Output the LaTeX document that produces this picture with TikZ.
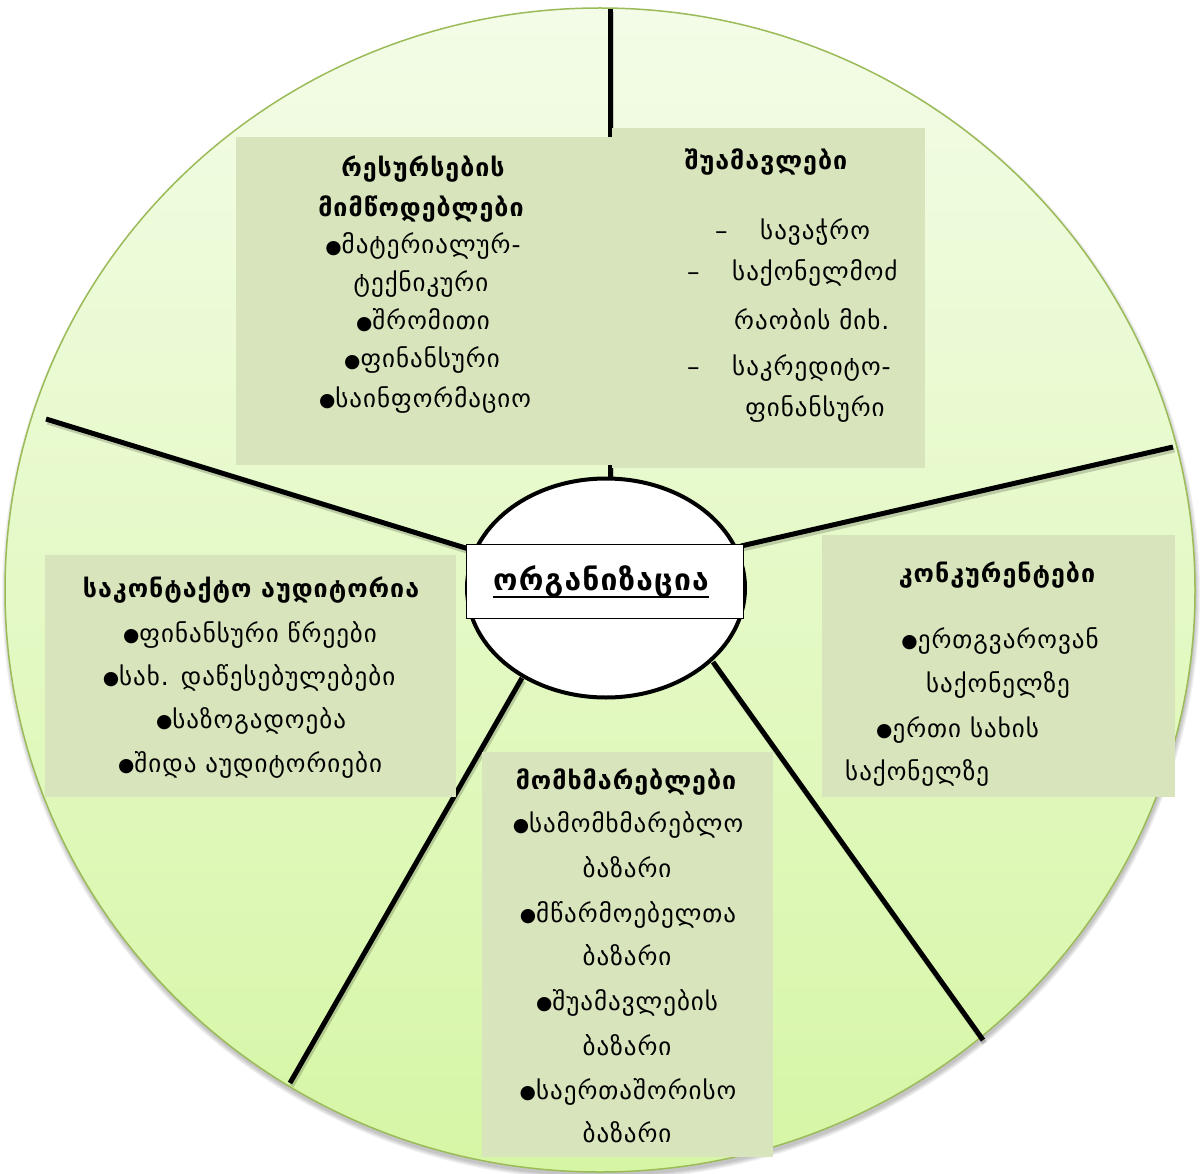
\documentclass[tikz,border=0pt]{standalone}
\usepackage{fontspec}
\usepackage{graphicx}
\setmainfont{DejaVu Sans}[LetterSpace=4]
\usetikzlibrary{shapes.geometric}

\definecolor{panelfill}{RGB}{216,228,188}
\definecolor{rimgreen}{RGB}{155,187,89}
\definecolor{wheeltop}{RGB}{243,252,231}
\definecolor{wheelmid}{RGB}{230,250,208}
\definecolor{wheelbot}{RGB}{214,246,165}

% small filled bullet in front of list items
\newcommand\bul{\raisebox{0.5pt}{\scalebox{0.75}{●}}}
% underline drawn at a fixed distance below the baseline
\newcommand\orgrule[1]{\setbox0\hbox{#1}\rlap{\rule[-8pt]{\wd0}{2pt}}\box0}

\tikzset{
  panel/.style={rectangle, fill=panelfill, draw=none, anchor=north west, inner sep=0pt},
  spoke/.style={line width=5pt, black},
  spokeshade/.style={line width=5pt, black, opacity=0.18},
  txt/.style={anchor=base, inner sep=0pt, font=\fontsize{25}{30}\selectfont},
  txtw/.style={txt, anchor=base west},
  hd/.style={txt, font=\fontsize{25}{30}\selectfont\bfseries},
}

\begin{document}
\begin{tikzpicture}[x=1pt,y=-1pt]
\useasboundingbox (0,0) rectangle (1200,1174);

% soft shadow under the wheel
\foreach \k in {0,...,4}
  \fill[black, opacity=0.05] (601,594) ellipse [x radius=595+\k, y radius=582+\k];

% the wheel
\node[ellipse, draw=rimgreen, line width=1.5pt, inner sep=0pt,
      minimum width=1190pt, minimum height=1164pt,
      top color=wheeltop, middle color=wheelmid, bottom color=wheelbot] (wheel) at (600,590) {};

% spoke end points
\coordinate (sN)   at (610,9);
\coordinate (sNin) at (610,480);
\coordinate (sW)   at (46,419);
\coordinate (sWin) at (472,550);
\coordinate (sE)   at (1173,447);
\coordinate (sEin) at (741,546);
\coordinate (sSE)  at (983,1040);
\coordinate (sSEin) at (713,662);
\coordinate (sSW)  at (290,1083);
\coordinate (sSWin) at (522,678);

% spokes with a light shade
\foreach \a/\b in {sN/sNin, sW/sWin, sE/sEin, sSE/sSEin, sSW/sSWin}
  \draw[spokeshade] ([shift={(1.5,3)}]\a) -- ([shift={(1.5,3)}]\b);
\foreach \a/\b in {sN/sNin, sW/sWin, sE/sEin, sSE/sSEin, sSW/sSWin}
  \draw[spoke] (\a) -- (\b);

% hub
\node[ellipse, draw, line width=4pt, fill=white, inner sep=0pt,
      minimum width=278pt, minimum height=219pt] (hub) at (606,588) {};
\node[rectangle, draw, line width=1pt, fill=white, inner sep=0pt,
      minimum width=277pt, minimum height=74pt] (orgbox) at (604.5,581) {};
\node[txt, font=\fontsize{30}{34}\selectfont\bfseries] (orgtitle) at (601,590) {\orgrule{ორგანიზაცია}};

% panels
\node[panel, minimum width=376pt, minimum height=328pt] (suppliers) at (236,137) {};
\node[panel, minimum width=313pt, minimum height=340pt] (agents) at (612,128) {};
\node[panel, minimum width=411pt, minimum height=242pt] (publics) at (45,555) {};
\node[panel, minimum width=353pt, minimum height=262pt] (rivals) at (822,535) {};
\node[panel, minimum width=291pt, minimum height=405pt] (clients) at (482,752) {};

% suppliers
\node[hd]  (p1a) at (423,177) {რესურსების};
\node[hd]  (p1b) at (421,217) {მიმწოდებლები};
\node[txt] (p1c) at (423,254) {\bul მატერიალურ-};
\node[txt] (p1d) at (421,292) {ტექნიკური};
\node[txt] (p1e) at (423,330) {\bul შრომითი};
\node[txt] (p1f) at (422,368) {\bul ფინანსური};
\node[txt] (p1g) at (425,407) {\bul საინფორმაციო};

% intermediaries
\node[hd]   (p2a) at (766,170) {შუამავლები};
\node[txtw] (p2d1) at (715,240) {–};
\node[txtw] (p2b) at (760,240) {სავაჭრო};
\node[txtw] (p2d2) at (687,281) {–};
\node[txtw] (p2c) at (732,281) {საქონელმოძ};
\node[txtw] (p2d) at (734,330) {რაობის მიხ.};
\node[txtw] (p2d3) at (687,376) {–};
\node[txtw] (p2e) at (732,376) {საკრედიტო-};
\node[txt]  (p2f) at (815,416) {ფინანსური};

% contact audiences
\node[hd]  (p3a) at (251,597) {საკონტაქტო აუდიტორია};
\node[txt] (p3b) at (250,642) {\bul ფინანსური წრეები};
\node[txt] (p3c) at (249,685) {\bul სახ. დაწესებულებები};
\node[txt] (p3d) at (251,728) {\bul საზოგადოება};
\node[txt] (p3e) at (250,772) {\bul შიდა აუდიტორიები};

% competitors
\node[hd]   (p4a) at (997,582) {კონკურენტები};
\node[txt]  (p4b) at (1000,648) {\bul ერთგვაროვან};
\node[txt]  (p4c) at (998,692) {საქონელზე};
\node[txtw] (p4d) at (876,737) {\bul ერთი სახის};
\node[txtw] (p4e) at (845,780) {საქონელზე};

% consumers
\node[hd]  (p5a) at (626,789) {მომხმარებლები};
\node[txt] (p5b) at (628,832) {\bul სამომხმარებლო};
\node[txt] (p5c) at (627,877) {ბაზარი};
\node[txt] (p5d) at (628,922) {\bul მწარმოებელთა};
\node[txt] (p5e) at (627,965) {ბაზარი};
\node[txt] (p5f) at (627,1010) {\bul შუამავლების};
\node[txt] (p5g) at (627,1055) {ბაზარი};
\node[txt] (p5h) at (628,1099) {\bul საერთაშორისო};
\node[txt] (p5i) at (627,1142) {ბაზარი};
\end{tikzpicture}
\end{document}
